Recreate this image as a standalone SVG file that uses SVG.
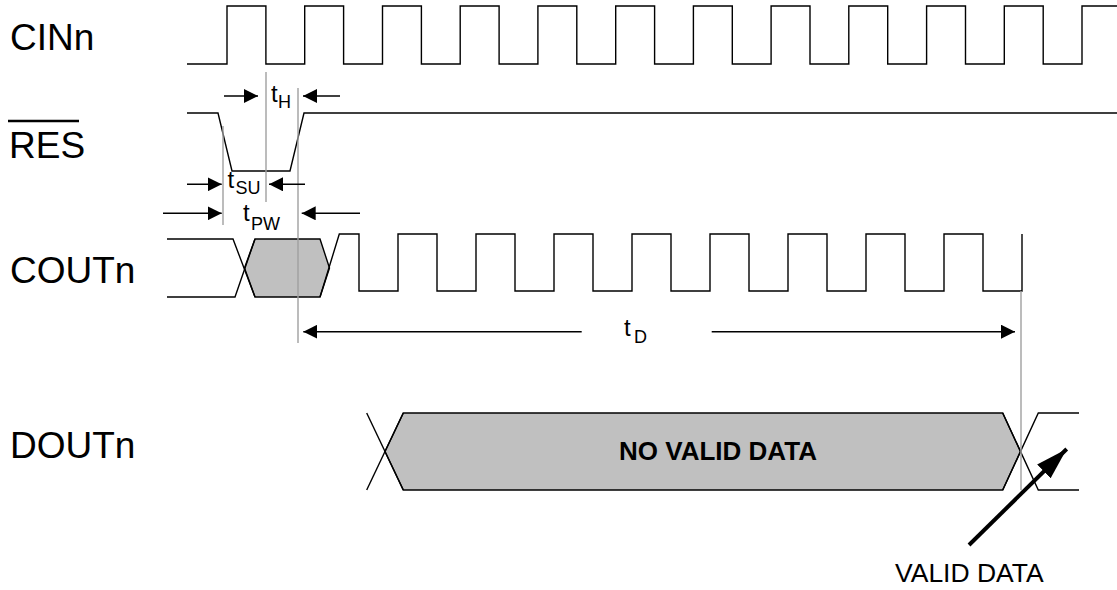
<svg xmlns="http://www.w3.org/2000/svg" width="1117" height="590" viewBox="0 0 1117 590">
<style>
.lbl{font-family:"Liberation Sans",Arial,sans-serif;font-size:37px;fill:#000}
.t{font-family:"Liberation Sans",Arial,sans-serif;font-size:24px;fill:#000}
.s{font-family:"Liberation Sans",Arial,sans-serif;font-size:18px;fill:#000}
.wave{fill:none;stroke:#000;stroke-width:1.4;stroke-linejoin:miter}
.bus{fill:#c0c0c0;stroke:#000;stroke-width:1.4}
.guide{stroke:#a0a0a0;stroke-width:1.4;fill:none}
.dim{stroke:#000;stroke-width:1.4;fill:none;marker-end:url(#ah)}
</style>
<defs>
<marker id="ah" markerUnits="userSpaceOnUse" markerWidth="14" markerHeight="14" viewBox="0 0 13 13" refX="13" refY="6.5" orient="auto">
<path d="M0,0 L13,6.5 L0,13 Z" fill="#000"/>
</marker>
<marker id="bigah" markerUnits="userSpaceOnUse" markerWidth="32" markerHeight="20" viewBox="0 0 30 18" refX="30" refY="9" orient="auto">
<path d="M0,0 L30,9 L0,18 Z" fill="#000"/>
</marker>
</defs>

<g id="cin">
<text class="lbl" x="10" y="50">CINn</text>
<path class="wave" d="M187,64 H227 V6 H265.9 V64 H304.7 V6 H343.6 V64 H382.5 V6 H421.4 V64 H460.2 V6 H499.1 V64 H537.9 V6 H576.8 V64 H615.7 V6 H654.6 V64 H693.4 V6 H732.3 V64 H771.1 V6 H810 V64 H848.8 V6 H887.7 V64 H926.6 V6 H965.5 V64 H1004.3 V6 H1043.2 V64 H1082 V6 H1117"/>
</g>

<g id="res">
<line x1="8" y1="121" x2="79" y2="121" stroke="#000" stroke-width="2.6"/>
<text class="lbl" x="9" y="158">RES</text>
<path class="wave" d="M187,113 H218 L232,171 H290 L304,113 H1117"/>
</g>

<g id="cout">
<text class="lbl" x="10" y="283">COUTn</text>
<polygon class="bus" points="244.5,268 255,239 320,239 329.5,268 320,297 255,297"/>
<path class="wave" d="M167,239 H233 L255,297"/>
<path class="wave" d="M167,297 H235 L255,239"/>
<path class="wave" d="M320,297 L339.3,234 H359 V291 H398 V234 H437 V291 H476 V234 H515 V291 H554 V234 H593 V291 H632 V234 H671 V291 H710 V234 H749 V291 H788 V234 H827 V291 H866 V234 H905 V291 H944 V234 H983 V291 H1022 V234"/>
</g>

<g id="dout">
<text class="lbl" x="10" y="458">DOUTn</text>
<polygon class="bus" points="385,451.5 403.3,413 1002.7,413 1020.5,451.5 1002.7,490 403.3,490"/>
<path class="wave" d="M366.7,413 L403.3,490"/>
<path class="wave" d="M366.7,490 L403.3,413"/>
<path class="wave" d="M1002.7,413 L1038.3,490 H1079"/>
<path class="wave" d="M1002.7,490 L1038.3,413 H1079"/>
<text x="718" y="460" text-anchor="middle" font-family="Liberation Sans, Arial, sans-serif" font-size="26" font-weight="bold">NO VALID DATA</text>
</g>

<g id="guides">
<line class="guide" x1="266" y1="72" x2="266" y2="202"/>
<line class="guide" x1="298" y1="88" x2="298" y2="343"/>
<line class="guide" x1="223" y1="126" x2="223" y2="225"/>
<line class="guide" x1="1021" y1="291" x2="1021" y2="490"/>
</g>

<g id="connectors">
<line class="dim" x1="224" y1="96" x2="258" y2="96"/>
<line class="dim" x1="340" y1="96" x2="303" y2="96"/>
<line class="dim" x1="187" y1="184.3" x2="221.7" y2="184.3"/>
<line class="dim" x1="305" y1="184.3" x2="269" y2="184.3"/>
<line class="dim" x1="163" y1="213.3" x2="221.7" y2="213.3"/>
<line class="dim" x1="360" y1="213.3" x2="301.7" y2="213.3"/>
<line class="dim" x1="581.7" y1="331.7" x2="303.3" y2="331.7"/>
<line class="dim" x1="711.7" y1="331.7" x2="1015" y2="331.7"/>
<line x1="969" y1="545" x2="1066.7" y2="449" stroke="#000" stroke-width="4" marker-end="url(#bigah)"/>
</g>

<g id="dimlabels">
<text class="t" x="271" y="102">t</text><text class="s" x="278" y="108">H</text>
<text class="t" x="227.5" y="188">t</text><text class="s" x="235.5" y="194">SU</text>
<text class="t" x="243" y="221">t</text><text class="s" x="251" y="230">PW</text>
<text class="t" x="624" y="336">t</text><text class="s" x="634" y="343">D</text>
<text x="895" y="582" font-family="Liberation Sans, Arial, sans-serif" font-size="26.5">VALID DATA</text>
</g>
</svg>
